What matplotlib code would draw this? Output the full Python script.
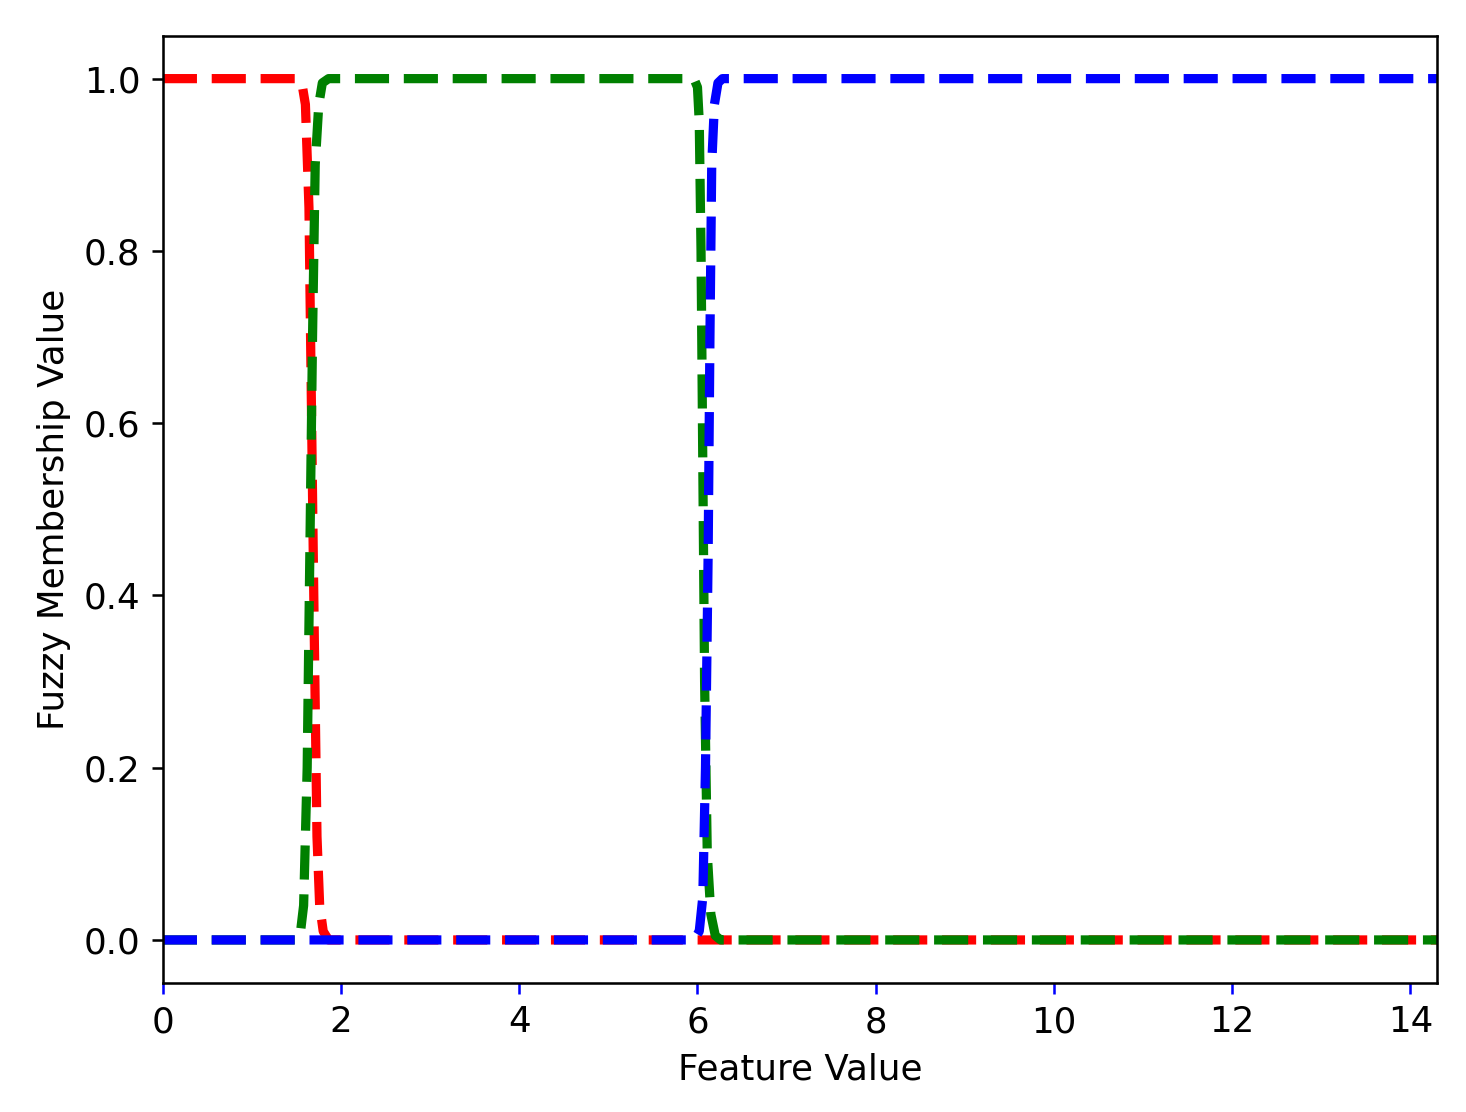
import numpy as np
import matplotlib
matplotlib.use('Agg')
import matplotlib.pyplot as plt

# values
x_max = 14.3

red_x = [0, 1.50, 1.56, 1.60, 1.64, 1.67, 1.70, 1.73, 1.76, 1.80, 1.86, 14.3]
red_y = [1, 1.0, 0.995, 0.97, 0.85, 0.6, 0.35, 0.12, 0.04, 0.01, 0.0, 0.0]

green_x = [0, 1.50, 1.54, 1.58, 1.62, 1.65, 1.68, 1.71, 1.75, 1.79, 1.86,
           5.96, 6.00, 6.02, 6.04, 6.06, 6.08, 6.11, 6.15, 6.20, 6.26, 14.3]
green_y = [0, 0.0, 0.005, 0.04, 0.2, 0.45, 0.7, 0.9, 0.97, 0.995, 1.0,
           1.0, 0.99, 0.95, 0.8, 0.55, 0.3, 0.1, 0.03, 0.005, 0.0, 0.0]

blue_x = [0, 5.96, 6.02, 6.06, 6.09, 6.12, 6.14, 6.16, 6.19, 6.23, 6.28, 14.3]
blue_y = [0, 0.0, 0.01, 0.05, 0.2, 0.45, 0.7, 0.9, 0.97, 0.995, 1.0, 1.0]

plt.rcParams['font.size'] = 11.2

fig = plt.figure(figsize=(6.406, 4.856), dpi=229)
ax = fig.add_subplot(111)
plt.subplots_adjust(left=0.111, right=0.9796, bottom=0.116, top=0.968)

ax.plot(red_x, red_y, '--', color='red', linewidth=2.9)
ax.plot(green_x, green_y, '--', color='green', linewidth=2.9)
ax.plot(blue_x, blue_y, '--', color='blue', linewidth=2.9)

ax.set_xlim(0, x_max)
ax.set_ylim(-0.05, 1.05)
ax.set_xticks(np.arange(0, 15, 2))
ax.tick_params(axis='x', color='blue')
ax.set_xlabel('Feature Value')
ax.set_ylabel('Fuzzy Membership Value')

fig.savefig('out.png', dpi=229)
